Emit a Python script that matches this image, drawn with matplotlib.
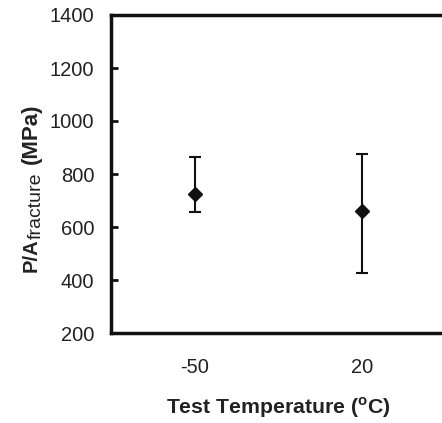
import matplotlib
matplotlib.use('Agg')
import matplotlib.pyplot as plt

# data
temps = ['-50', '20']
mean_stress = [725, 662]
upper = [865, 877]
lower = [656, 425]

yticks = [200, 400, 600, 800, 1000, 1200, 1400]

plt.rcParams['font.family'] = ['Liberation Sans', 'DejaVu Sans']
plt.rcParams['mathtext.fontset'] = 'custom'
plt.rcParams['mathtext.rm'] = 'Liberation Sans'
plt.rcParams['mathtext.bf'] = 'Liberation Sans:bold'

W, H = 442, 423
fig = plt.figure(figsize=(W / 100, H / 100), dpi=100)
# axes run a bit past the right edge so the right spine is cut off
ax = fig.add_axes([111 / W, 90 / H, 335 / W, 318 / H])

x = list(range(1, len(temps) + 1))
err_lo = [m - l for m, l in zip(mean_stress, lower)]
err_hi = [u - m for m, u in zip(mean_stress, upper)]
ax.errorbar(x, mean_stress, yerr=[err_lo, err_hi], fmt='D', color='#111111',
            markersize=7.5, capsize=4.2, capthick=1.5, elinewidth=1.5, clip_on=False)

ax.set_xlim(0.5, 2.5)
ax.set_ylim(200, 1400)
ax.set_xticks(x)
ax.set_xticklabels(temps)
ax.set_yticks(yticks)

for side in ['left', 'bottom', 'top', 'right']:
    ax.spines[side].set_linewidth(2.5)
    ax.spines[side].set_color('#111111')

ax.tick_params(axis='y', direction='in', length=5, width=2, labelsize=14.5, pad=12,
               colors='#111111', labelcolor='#222222')
ax.tick_params(axis='x', length=0, labelsize=14.5, pad=18, labelcolor='#222222')

ax.set_xlabel('Test Temperature ($^\\mathregular{o}$C)', fontsize=15.3, fontweight='bold',
              labelpad=13, color='#222222')

# y label built from pieces: bold "P/A", regular subscript, bold "(MPa)"
def px(xp, yp):
    return xp / W, 1 - yp / H

kw = dict(rotation=90, rotation_mode='anchor', ha='left', va='baseline', color='#222222')
fig.text(*px(37, 272), 'P/A', fontsize=14.5, fontweight='bold', **kw)
fig.text(*px(41, 239), 'fracture', fontsize=14, **kw)
fig.text(*px(37, 164), '(MPa)', fontsize=16, fontweight='bold', **kw)

fig.savefig('out.png', dpi=100)
